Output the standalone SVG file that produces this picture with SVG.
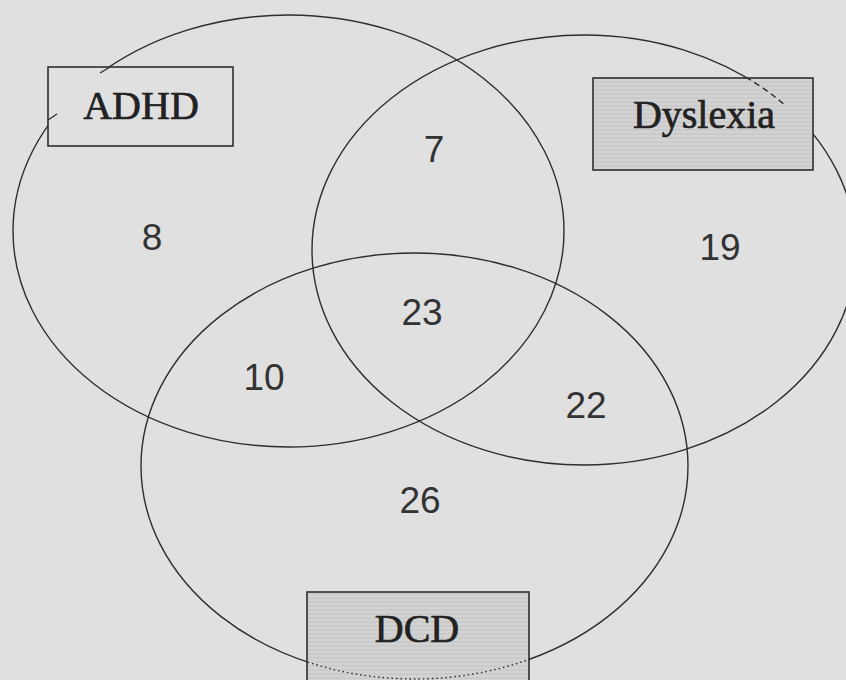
<svg xmlns="http://www.w3.org/2000/svg" width="846" height="680" viewBox="0 0 846 680">
  <defs>
    <pattern id="zig" width="6" height="4" patternUnits="userSpaceOnUse">
      <rect width="6" height="4" fill="#d3d3d3"/>
      <path d="M0,3 L1.5,1 L3,3 L4.5,1 L6,3" fill="none" stroke="#c2c2c2" stroke-width="0.9"/>
    </pattern>
    <clipPath id="clipDys"><rect x="593" y="78" width="220" height="26"/></clipPath>
    <clipPath id="clipDcd"><rect x="307" y="592" width="222" height="100"/></clipPath>
    <style>
      .ring { fill: none; stroke: #2e2e2e; stroke-width: 1.4; }
      .box { stroke: #2e2e2e; stroke-width: 1.6; }
      .lbl { font-family: "Liberation Serif", "Times New Roman", serif; font-size: 40px; font-weight: normal; fill: #222; stroke: #222; stroke-width: 0.7; text-anchor: middle; }
      .num { font-family: "Liberation Sans", Arial, sans-serif; font-size: 37px; fill: #333; text-anchor: middle; }
    </style>
  </defs>
  <rect width="846" height="680" fill="#e0e0e0"/>

  <g id="sets">
    <ellipse id="ring-adhd" class="ring" cx="288.5" cy="231" rx="275.5" ry="216"/>
    <ellipse id="ring-dyslexia" class="ring" cx="584" cy="250" rx="272" ry="215"/>
    <ellipse id="ring-dcd" class="ring" cx="414.5" cy="466" rx="273.5" ry="213"/>
  </g>

  <g id="connectors"></g>

  <g id="node-adhd">
    <rect class="box" x="48" y="67" width="185" height="79" fill="#e0e0e0"/>
    <path d="M100,73 L110,67 M48,120 L57,114" stroke="#2e2e2e" stroke-width="1.4" fill="none"/>
    <text class="lbl" x="141" y="119">ADHD</text>
  </g>

  <g id="node-dyslexia">
    <rect class="box" x="593" y="78" width="220" height="92" fill="url(#zig)"/>
    <ellipse class="ring" cx="584" cy="250" rx="272" ry="215" stroke-dasharray="6 4" clip-path="url(#clipDys)"/>
    <text class="lbl" x="704" y="128">Dyslexia</text>
  </g>

  <g id="node-dcd">
    <rect class="box" x="307" y="592" width="222" height="100" fill="url(#zig)"/>
    <ellipse class="ring" cx="414.5" cy="466" rx="273.5" ry="213" stroke-dasharray="1.5 3" stroke-width="1.8" clip-path="url(#clipDcd)"/>
    <text class="lbl" x="417" y="642">DCD</text>
  </g>

  <g id="counts">
    <text class="num" x="152" y="250">8</text>
    <text class="num" x="434" y="162">7</text>
    <text class="num" x="720" y="260">19</text>
    <text class="num" x="422" y="325">23</text>
    <text class="num" x="264" y="390">10</text>
    <text class="num" x="586" y="418">22</text>
    <text class="num" x="420" y="513">26</text>
  </g>
</svg>
